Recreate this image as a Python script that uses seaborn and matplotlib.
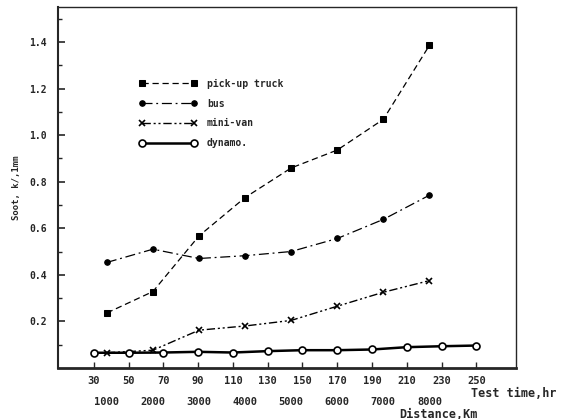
import matplotlib
matplotlib.use("Agg")
import matplotlib.pyplot as plt
import seaborn as sns
import numpy as np
import pandas as pd
from matplotlib.ticker import MultipleLocator, FixedLocator

# ---- data ----
distance_km = [1000, 2000, 3000, 4000, 5000, 6000, 7000, 8000]
pickup_truck = [0.236, 0.328, 0.567, 0.732, 0.859, 0.936, 1.068, 1.386]
bus = [0.453, 0.510, 0.470, 0.482, 0.500, 0.556, 0.638, 0.742]
mini_van = [0.065, 0.076, 0.162, 0.180, 0.204, 0.265, 0.325, 0.375]
dynamo_hours = [30, 50, 70, 90, 110, 130, 150, 170, 190, 210, 230, 250]
dynamo = [0.065, 0.065, 0.066, 0.069, 0.066, 0.072, 0.076, 0.076, 0.079, 0.089, 0.093, 0.096]
hour_ticks = [30, 50, 70, 90, 110, 130, 150, 170, 190, 210, 230, 250]
km_ticks = [1000, 2000, 3000, 4000, 5000, 6000, 7000, 8000]
ytick_vals = [0.2, 0.4, 0.6, 0.8, 1.0, 1.2, 1.4]


def km2h(km):
    return 37.5 + (np.asarray(km, dtype=float) - 1000.0) * 0.0265


def h2km(h):
    return 1000.0 + (np.asarray(h, dtype=float) - 37.5) / 0.0265


sns.set_theme(style="ticks")
plt.rcParams['font.family'] = ['DejaVu Sans Mono', 'DejaVu Sans']
plt.rcParams['font.weight'] = 'bold'

fig = plt.figure(figsize=(5.7, 4.19), dpi=100)
ax = fig.add_axes([0.102, 0.122, 0.804, 0.861])

veh_h = km2h(distance_km)
sns.lineplot(x=veh_h, y=pickup_truck, ax=ax, color='black', lw=0.9,
             linestyle=(0, (5, 3)), marker='s', markersize=4, markeredgecolor='black',
             label='pick-up truck', sort=False, estimator=None)
sns.lineplot(x=veh_h, y=bus, ax=ax, color='black', lw=0.9,
             linestyle=(0, (8, 3, 1.5, 3)), marker='o', markersize=4, markeredgecolor='black',
             label='bus', sort=False, estimator=None)
sns.lineplot(x=veh_h, y=mini_van, ax=ax, color='black', lw=1.0,
             linestyle=(0, (6, 2, 1.5, 2, 1.5, 2)), marker='x', markersize=5,
             markeredgewidth=1.2, markeredgecolor='black',
             label='mini-van', sort=False, estimator=None)
sns.lineplot(x=dynamo_hours, y=dynamo, ax=ax, color='black', lw=1.8,
             linestyle='-', marker='o', markersize=5, markerfacecolor='white',
             markeredgecolor='black', markeredgewidth=1.2,
             label='dynamo.', sort=False, estimator=None)

ax.set_xlim(9.5, 273)
ax.set_ylim(0.0, 1.55)

ax.set_yticks(ytick_vals)
ax.set_yticklabels([f"{v:.1f}" for v in ytick_vals], fontsize=7, fontweight='bold')
ax.yaxis.set_minor_locator(FixedLocator([0.1, 0.3, 0.5, 0.7, 0.9, 1.1, 1.3, 1.5]))
ax.tick_params(axis='y', which='major', direction='in', length=5, width=1.2, pad=8)
ax.tick_params(axis='y', which='minor', direction='in', length=3, width=1.0)

ax.set_xticks(hour_ticks)
ax.set_xticklabels([str(h) for h in hour_ticks], fontsize=7.5, fontweight='bold')
ax.tick_params(axis='x', which='major', direction='in', length=4, width=1.0, pad=6)

sec = ax.secondary_xaxis('bottom', functions=(h2km, km2h))
sec.set_xticks(km_ticks)
sec.set_xticklabels([str(k) for k in km_ticks], fontsize=7.5, fontweight='bold')
sec.tick_params(axis='x', length=0, pad=21)
sec.spines['bottom'].set_visible(False)

ax.spines['left'].set_linewidth(1.5)
ax.spines['bottom'].set_linewidth(2.0)
ax.spines['top'].set_linewidth(1.0)
ax.spines['right'].set_linewidth(1.0)

ax.set_xlabel('')
ax.set_ylabel('Soot, k/,1mm', fontsize=6.5, fontweight='bold', labelpad=6)

fig.text(0.826, 1 - 393 / 419, 'Test time,hr', fontsize=8.5, fontweight='bold',
         ha='left', va='center')
fig.text(0.70, 1 - 414 / 419, 'Distance,Km', fontsize=8.5, fontweight='bold',
         ha='left', va='center')

leg = ax.legend(loc='upper left', bbox_to_anchor=(130 / 570, 1 - 70 / 419),
                bbox_transform=fig.transFigure, frameon=False, numpoints=2,
                handlelength=6.0, handletextpad=1.0, labelspacing=1.0,
                prop={'family': 'DejaVu Sans Mono', 'weight': 'bold', 'size': 7})

fig.savefig('out.png', dpi=100)
